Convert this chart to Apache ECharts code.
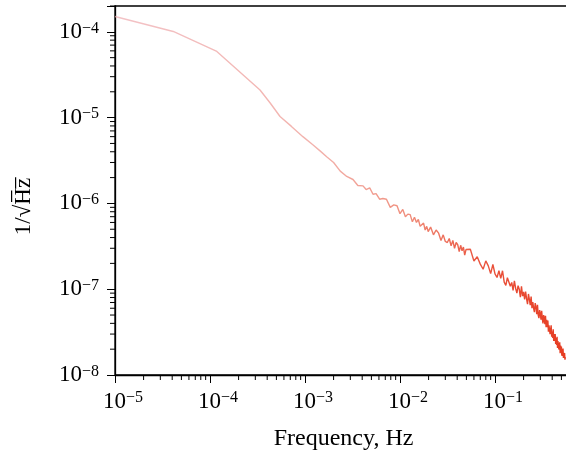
<!DOCTYPE html>
<html><head><meta charset="utf-8">
<script src="https://cdn.jsdelivr.net/npm/echarts@6/dist/echarts.min.js"></script>
<style>html,body{margin:0;padding:0;background:#fff}#c{width:566px;height:454px}</style>
</head><body><div id="c"></div>
<script>
// ---- data ----
const freq = [
  1e-5, 4.1e-5, 1.18e-4, 3.36e-4, 4.3e-4, 5.46e-4, 7.2e-4, 9.5e-4, 1.2e-3, 1.45e-3,
  1.69e-3, 2.0e-3, 2.35e-3, 2.75e-3, 3.2e-3, 3.6e-3, 4.08e-3, 4.4e-3, 4.8e-3, 5.2e-3,
  5.6e-3, 6.1e-3, 6.6e-3,
  0.0072, 0.0079, 0.0086, 0.0093, 0.0100, 0.0107, 0.0114, 0.0121, 0.0128, 0.0135,
  0.0142, 0.0149, 0.0156, 0.0163, 0.0170, 0.0177, 0.0184, 0.0191, 0.0198,
  0.0210, 0.0225, 0.0240, 0.0255, 0.0270, 0.0285, 0.0300, 0.0315, 0.0330, 0.0345,
  0.0360, 0.0375, 0.0390, 0.0405, 0.0420, 0.0435, 0.0450, 0.0465, 0.0480, 0.0495,
  0.055, 0.060, 0.065, 0.070, 0.075, 0.080, 0.085, 0.090, 0.095, 0.100,
  0.105, 0.110, 0.115, 0.120, 0.125, 0.130, 0.135, 0.140, 0.145, 0.150,
  0.155, 0.160, 0.165, 0.170, 0.175, 0.180, 0.185, 0.190, 0.195, 0.200,
  0.205, 0.210, 0.215, 0.220, 0.225, 0.230, 0.235, 0.240, 0.245, 0.250,
  0.255, 0.260, 0.265, 0.270, 0.275, 0.280, 0.285, 0.290, 0.295, 0.300,
  0.305, 0.310, 0.315, 0.320, 0.325, 0.330, 0.335, 0.340, 0.345, 0.350,
  0.355, 0.360, 0.365, 0.370, 0.375, 0.380, 0.385, 0.390, 0.395, 0.400,
  0.405, 0.410, 0.415, 0.420, 0.425, 0.430, 0.435, 0.440, 0.445, 0.450,
  0.455, 0.460, 0.465, 0.470, 0.475, 0.480, 0.485, 0.490, 0.495, 0.500,
  0.505, 0.510, 0.515, 0.520, 0.525, 0.530, 0.535, 0.540, 0.545, 0.550
];
const asd = [
  1.51e-4, 1.01e-4, 5.9e-5, 2.1e-5, 1.48e-5, 1.03e-5, 7.9e-6, 6.0e-6, 4.85e-6, 4.07e-6,
  3.5e-6, 3.0e-6, 2.38e-6, 2.06e-6, 1.9e-6, 1.62e-6, 1.6e-6, 1.45e-6, 1.52e-6, 1.28e-6,
  1.30e-6, 1.12e-6, 1.14e-6,
  1.12e-6, 9.0e-7, 9.6e-7, 9.4e-7, 7.6e-7, 8.5e-7, 7.0e-7, 7.5e-7, 7.4e-7, 6.1e-7,
  6.9e-7, 6.0e-7, 6.5e-7, 5.4e-7, 5.6e-7, 5.9e-7, 4.9e-7, 5.4e-7, 4.7e-7,
  5.3e-7, 4.3e-7, 4.9e-7, 4.5e-7, 3.7e-7, 4.3e-7, 3.6e-7, 3.5e-7, 3.9e-7, 3.2e-7,
  3.7e-7, 3.0e-7, 3.5e-7, 3.3e-7, 2.75e-7, 3.25e-7, 2.8e-7, 3.1e-7, 2.5e-7, 2.9e-7,
  2.92e-7, 2.13e-7, 2.39e-7, 1.96e-7, 1.71e-7, 2.14e-7, 1.87e-7, 1.52e-7, 1.94e-7, 1.51e-7,
  1.37e-7, 1.64e-7, 1.34e-7, 1.64e-7, 1.21e-7, 1.11e-7, 1.36e-7, 1.39e-7, 1.08e-7, 1.20e-7,
  9.7e-8, 1.25e-7, 1.02e-7, 9.0e-8, 1.10e-7, 1.00e-7, 8.1e-8, 1.08e-7, 8.3e-8, 9.3e-8,
  7.6e-8, 9.4e-8, 7.7e-8, 6.7e-8, 8.8e-8, 7.6e-8, 6.5e-8, 8.2e-8, 6.0e-8, 7.1e-8,
  6.0e-8, 5.4e-8, 6.9e-8, 6.2e-8, 5.1e-8, 6.6e-8, 5.0e-8, 4.6e-8, 5.7e-8, 5.2e-8,
  4.4e-8, 5.6e-8, 4.5e-8, 4.0e-8, 5.0e-8, 4.6e-8, 3.9e-8, 4.9e-8, 3.6e-8, 4.4e-8,
  3.6e-8, 4.3e-8, 3.2e-8, 3.8e-8, 3.9e-8, 3.0e-8, 3.1e-8, 3.8e-8, 2.8e-8, 3.2e-8,
  2.7e-8, 3.4e-8, 2.5e-8, 3.0e-8, 2.5e-8, 3.0e-8, 2.3e-8, 2.7e-8, 2.24e-8, 2.79e-8,
  2.07e-8, 2.49e-8, 2.52e-8, 1.98e-8, 2.04e-8, 2.41e-8, 1.79e-8, 2.20e-8, 1.83e-8, 2.15e-8,
  1.68e-8, 1.99e-8, 1.67e-8, 2.03e-8, 1.58e-8, 1.81e-8, 1.59e-8, 1.80e-8, 1.51e-8, 1.61e-8
];
const xTickExps = [-5, -4, -3, -2, -1];
const yTickExps = [-8, -7, -6, -5, -4];
const xTitle = 'Frequency, Hz';
const yTitle = '1/\u221AH\u0305z\u0305';

// ---- helpers ----
const FONT = 'Liberation Serif';
function powLabel(exps) {
  return function (v) {
    const e = Math.log10(v), r = Math.round(e);
    if (Math.abs(e - r) > 1e-6 || exps.indexOf(r) < 0) return '';
    return '{b|10}{s|' + (r < 0 ? '\u2212' : '') + Math.abs(r) + '}';
  };
}
function makeRich() {
  return {
    b: { fontSize: 23, fontFamily: FONT, color: '#000' },
    s: { fontSize: 16, fontFamily: FONT, color: '#000', verticalAlign: 'top' }
  };
}
const xMin = 1e-5, xMax = 1, yMin = 1e-8, yMax = 2e-4;
const xMinor = [], yMinor = [];
for (let e = -5; e < 0; e++) for (let m = 2; m <= 9; m++) xMinor.push([m * Math.pow(10, e), yMin]);
for (let e = -8; e < -3; e++) for (let m = 2; m <= 9; m++) {
  const v = m * Math.pow(10, e); if (v <= yMax * 1.0001) yMinor.push([xMin, v]);
}

const chart = echarts.init(document.getElementById('c'), null, { renderer: 'canvas' });
chart.setOption({
  animation: false,
  backgroundColor: '#fff',
  grid: { left: 115, right: -24, top: 6, bottom: 79, show: true, borderColor: '#000', borderWidth: 1.3,
          containLabel: false, outerBoundsMode: 'none' },
  xAxis: {
    type: 'log', min: xMin, max: xMax,
    name: xTitle, nameLocation: 'middle', nameGap: 52,
    nameTextStyle: { fontFamily: FONT, fontSize: 24, color: '#000', padding: [0, 18, 0, 0] },
    axisLine: { lineStyle: { color: '#000', width: 1.3 } },
    axisTick: { length: 8, lineStyle: { color: '#000', width: 1 } },
    axisLabel: { formatter: powLabel(xTickExps), rich: makeRich(), margin: 15, padding: [0, 0, 0, 16],
                 showMinLabel: true, showMaxLabel: true, hideOverlap: false },
    splitLine: { show: false }
  },
  yAxis: {
    type: 'log', min: yMin, max: yMax,
    name: yTitle, nameLocation: 'middle', nameGap: 80, nameRotate: 90,
    nameTextStyle: { fontFamily: FONT, fontSize: 23, color: '#000', padding: [0, 32, 0, 0] },
    axisLine: { lineStyle: { color: '#000', width: 1.3 } },
    axisTick: { length: 8, lineStyle: { color: '#000', width: 1 } },
    axisLabel: { formatter: powLabel(yTickExps), rich: makeRich(), margin: 16, showMinLabel: true, showMaxLabel: true },
    splitLine: { show: false }
  },
  series: [
    {
      type: 'line', data: freq.map((f, i) => [f, asd[i]]),
      showSymbol: false, symbol: 'none', smooth: false,
      lineStyle: {
        width: 1.4,
        color: new echarts.graphic.LinearGradient(0, 0, 1, 0, [
          { offset: 0, color: 'rgba(238,170,175,0.7)' },
          { offset: 0.45, color: 'rgba(240,165,158,0.85)' },
          { offset: 0.65, color: '#f08e7c' },
          { offset: 0.8, color: '#ea5640' },
          { offset: 1, color: '#e63c22' }
        ])
      },
      z: 3
    },
    {
      type: 'custom', data: xMinor, clip: false, silent: true, z: 4,
      renderItem: function (params, api) {
        const p = api.coord([api.value(0), api.value(1)]);
        return { type: 'line', shape: { x1: p[0], y1: p[1], x2: p[0], y2: p[1] + 5 }, style: { stroke: '#000', lineWidth: 1 } };
      }
    },
    {
      type: 'custom', data: yMinor, clip: false, silent: true, z: 4,
      renderItem: function (params, api) {
        const p = api.coord([api.value(0), api.value(1)]);
        return { type: 'line', shape: { x1: p[0], y1: p[1], x2: p[0] - 5, y2: p[1] }, style: { stroke: '#000', lineWidth: 1 } };
      }
    }
  ]
});
</script></body></html>
